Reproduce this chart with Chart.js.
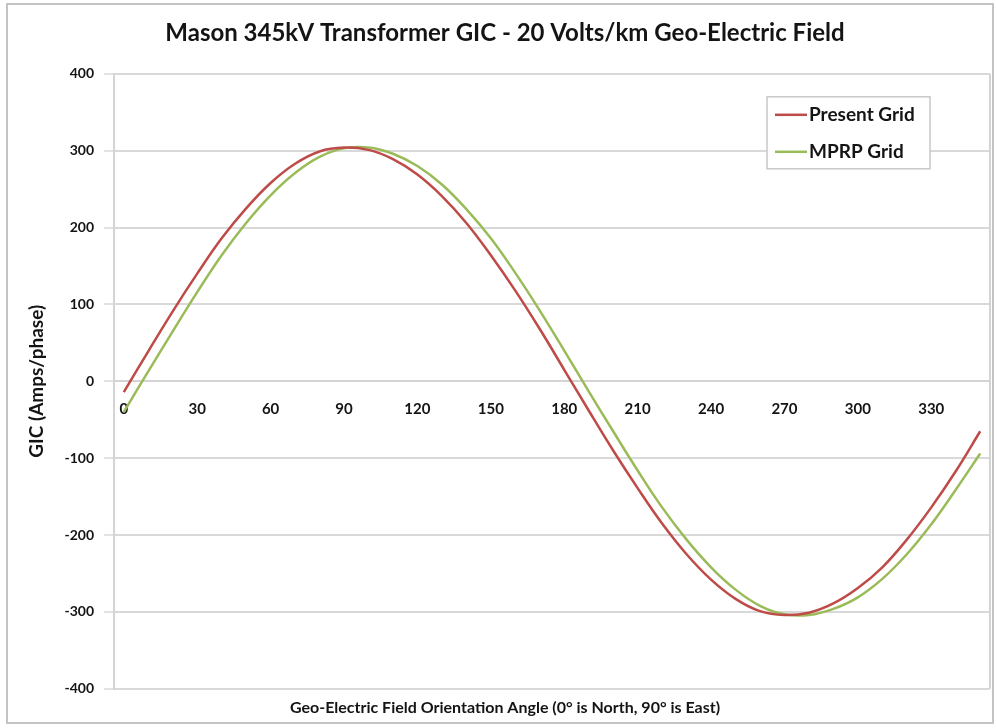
<!DOCTYPE html>
<html>
<head>
<meta charset="utf-8">
<script src="https://cdn.jsdelivr.net/npm/chart.js@4/dist/chart.umd.min.js"></script>
<style>
  html, body { margin: 0; padding: 0; background: #fff; }
  #wrap { width: 997px; height: 728px; }
</style>
</head>
<body>
<div id="wrap"><canvas id="c" width="997" height="728"></canvas></div>
<script>
const chartTitle = 'Mason 345kV Transformer GIC - 20 Volts/km Geo-Electric Field';
const xAxisTitle = 'Geo-Electric Field Orientation Angle (0\u00B0 is North, 90\u00B0 is East)';
const yAxisTitle = 'GIC (Amps/phase)';
const seriesNames = ['Present Grid', 'MPRP Grid'];

const angles = [0,10,20,30,40,50,60,70,80,90,100,110,120,130,140,150,160,170,
                180,190,200,210,220,230,240,250,260,270,280,290,300,310,320,330,340,350];

const presentGrid = [-14,39,91,140,186,225,258,283,299,304,301,289,269,241,206,164,118,68,
                     15,-38,-90,-139,-185,-225,-258,-283,-299,-304,-301,-289,-269,-242,-206,-164,-117,-65];

const mprpGrid = [-40,13,65,116,164,206,242,271,292,303,304,296,280,256,224,186,141,92,
                  40,-13,-65,-116,-164,-206,-242,-271,-292,-303,-304,-296,-281,-257,-225,-186,-141,-94];

const xTickValues = [0,30,60,90,120,150,180,210,240,270,300,330];
const yTickValues = [-400,-300,-200,-100,0,100,200,300,400];

const FONT = 'Lato, "Open Sans", sans-serif';
const TEXT = '#141414';

const framePlugin = {
  id: 'frame',
  beforeDraw(chart) {
    const ctx = chart.ctx;
    ctx.save();
    ctx.fillStyle = '#ffffff';
    ctx.fillRect(0, 0, chart.width, chart.height);
    ctx.strokeStyle = '#c4c4c4';
    ctx.lineWidth = 2;
    ctx.strokeRect(7, 4, chart.width - 11, chart.height - 9);
    ctx.restore();
  },
  afterDraw(chart) {
    const ctx = chart.ctx;
    const a = chart.chartArea;
    ctx.save();
    ctx.strokeStyle = '#d4d4d4';
    ctx.lineWidth = 2;
    ctx.beginPath();
    ctx.moveTo(a.right, a.top);
    ctx.lineTo(a.right, a.bottom);
    ctx.stroke();
    ctx.restore();
  }
};

const legendPlugin = {
  id: 'boxLegend',
  afterDraw(chart) {
    const ctx = chart.ctx;
    const a = chart.chartArea;
    const bx = a.right - 223, by = a.top + 23, bw = 163, bh = 72;
    ctx.save();
    ctx.fillStyle = '#ffffff';
    ctx.fillRect(bx, by, bw, bh);
    ctx.strokeStyle = '#c8c8c8';
    ctx.lineWidth = 1.5;
    ctx.strokeRect(bx, by, bw, bh);
    chart.data.datasets.forEach((ds, i) => {
      const y = by + 18 + i * 37;
      ctx.strokeStyle = ds.borderColor;
      ctx.lineWidth = 2.5;
      ctx.beginPath();
      ctx.moveTo(bx + 8, y);
      ctx.lineTo(bx + 40, y);
      ctx.stroke();
      ctx.fillStyle = TEXT;
      ctx.font = 'bold 19px ' + FONT;
      ctx.textAlign = 'left';
      ctx.textBaseline = 'middle';
      ctx.fillText(ds.label, bx + 42, y);
    });
    ctx.restore();
  }
};

new Chart(document.getElementById('c'), {
  type: 'line',
  data: {
    datasets: [
      {
        label: seriesNames[0],
        data: angles.map((a, i) => ({ x: a, y: presentGrid[i] })),
        borderColor: '#BE4B48',
        borderWidth: 2.5,
        pointRadius: 0,
        tension: 0.4,
        fill: false
      },
      {
        label: seriesNames[1],
        data: angles.map((a, i) => ({ x: a, y: mprpGrid[i] })),
        borderColor: '#9BBB59',
        borderWidth: 2.5,
        pointRadius: 0,
        tension: 0.4,
        fill: false
      }
    ]
  },
  options: {
    responsive: false,
    animation: false,
    layout: { padding: { left: 20, right: 7, top: 0, bottom: 6 } },
    plugins: {
      legend: { display: false },
      tooltip: { enabled: false },
      title: {
        display: true,
        text: chartTitle,
        color: TEXT,
        font: { family: FONT, size: 24, weight: 'bold' },
        padding: { top: 19, bottom: 26 }
      },
      subtitle: {
        display: true,
        position: 'bottom',
        text: xAxisTitle,
        color: TEXT,
        font: { family: FONT, size: 16, weight: 'bold' },
        padding: { top: 9, bottom: 5 }
      }
    },
    scales: {
      x: {
        type: 'linear',
        min: -4,
        max: 354,
        position: { y: 0 },
        afterBuildTicks: (scale) => { scale.ticks = xTickValues.map(v => ({ value: v })); },
        afterFit: (scale) => { scale.height = 0; },
        grid: { display: false, drawTicks: false },
        border: { display: true, color: '#d4d4d4', width: 2 },
        ticks: {
          color: TEXT,
          font: { family: FONT, size: 15, weight: 'bold' },
          padding: 19,
          maxRotation: 0,
          autoSkip: false
        }
      },
      y: {
        type: 'linear',
        min: -400,
        max: 400,
        afterBuildTicks: (scale) => { scale.ticks = yTickValues.map(v => ({ value: v })); },
        afterFit: (scale) => { scale.width = 94; },
        grid: { color: '#d9d9d9', lineWidth: 2, tickLength: 10, tickColor: '#e2e2e2' },
        border: { display: true, color: '#d4d4d4', width: 2 },
        ticks: {
          color: TEXT,
          font: { family: FONT, size: 14, weight: 'bold' },
          padding: 10
        },
        title: {
          display: true,
          text: yAxisTitle,
          color: TEXT,
          font: { family: FONT, size: 19, weight: 'bold' },
          padding: { top: 5, bottom: 0 }
        }
      }
    }
  },
  plugins: [framePlugin, legendPlugin]
});
</script>
</body>
</html>
